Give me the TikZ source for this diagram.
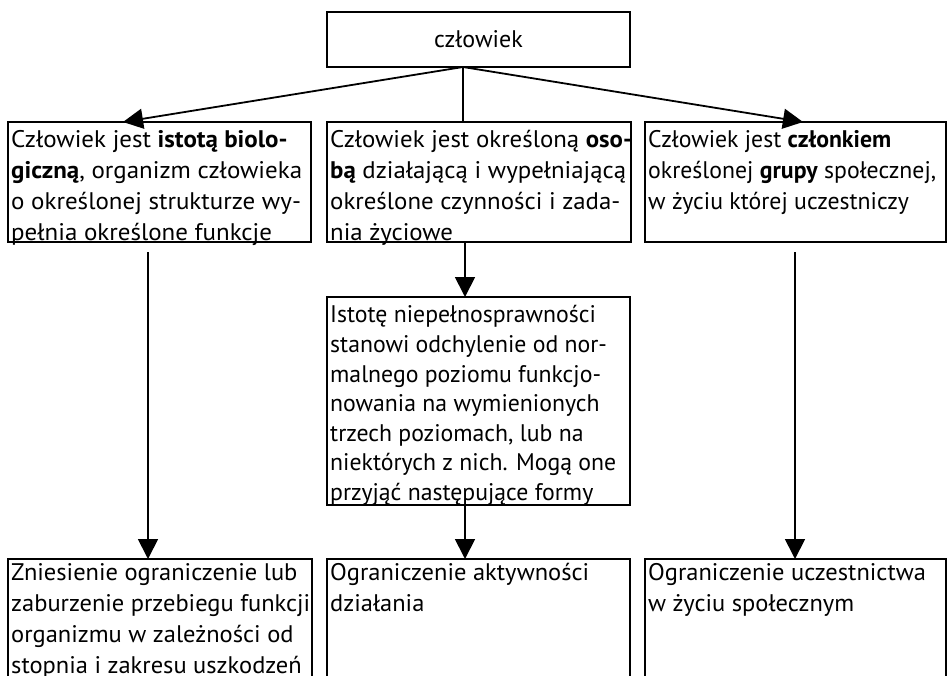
\documentclass[tikz,border=0pt]{standalone}
\usepackage{fontspec}
\usepackage{graphicx}
\setmainfont{PT Sans}
\newcommand\mytxt[2]{\scalebox{#1}[1]{\begin{tabular}[t]{@{}l@{}}#2\end{tabular}}}
\usetikzlibrary{arrows.meta}
\begin{document}
\begin{tikzpicture}[x=1pt,y=-1pt,
  box/.style={draw, line width=1.5pt, inner sep=0pt, outer sep=0pt, anchor=north west},
  txt/.style={anchor=north west, inner sep=0pt, font=\fontsize{24}{31}\selectfont},
  midtxt/.style={txt, font=\fontsize{24}{29.6}\selectfont},
  arr/.style={line width=1.8pt, -{Triangle[length=20pt,width=20pt]}},
  plain/.style={line width=1.8pt}]
\useasboundingbox (0,0) rectangle (949,676);
\clip (0,0) rectangle (949,676);
% top
\node[box, minimum width=303pt, minimum height=55pt] (top) at (327,12) {};
\node[anchor=base, inner sep=0pt, font=\fontsize{24}{31}\selectfont] (toptxt) at (478.5,48) {człowiek};
% row 1
\node[box, minimum width=303pt, minimum height=120pt] (b1) at (8,122) {};
\node[box, minimum width=304pt, minimum height=120pt] (b2) at (327,122) {};
\node[box, minimum width=301pt, minimum height=120pt] (b3) at (645,122) {};
\node[txt] (t1) at (11,125.3) {\mytxt{1.04}{Człowiek jest \textbf{istotą biolo-}\\\textbf{giczną}, organizm człowieka\\o określonej strukturze wy-\\pełnia określone funkcje}};
\node[txt] (t2) at (330,125.3) {\mytxt{1.035}{Człowiek jest określoną \textbf{oso-}\\\textbf{bą} działającą i wypełniającą\\określone czynności i zada-\\nia życiowe}};
\node[txt] (t3) at (648,125.3) {\mytxt{0.99}{Człowiek jest \textbf{członkiem}\\określonej \textbf{grupy} społecznej,\\w życiu której uczestniczy}};
% middle
\node[box, minimum width=303pt, minimum height=208pt] (mid) at (327,297) {};
\node[midtxt] (tm) at (330,302) {\mytxt{0.99}{Istotę niepełnosprawności\\stanowi odchylenie od nor-\\malnego poziomu funkcjo-\\nowania na wymienionych\\trzech poziomach, lub na\\niektórych z nich. Mogą one\\przyjąć następujące formy}};
% bottom row
\node[box, minimum width=304pt, minimum height=140pt] (c1) at (8,559) {};
\node[box, minimum width=303pt, minimum height=140pt] (c2) at (327,559) {};
\node[box, minimum width=301pt, minimum height=140pt] (c3) at (645,559) {};
\node[txt] (u1) at (11,559) {\mytxt{1.02}{Zniesienie ograniczenie lub\\zaburzenie przebiegu funkcji\\organizmu w zależności od\\stopnia i zakresu uszkodzeń}};
\node[txt] (u2) at (330,559) {\mytxt{1.02}{Ograniczenie aktywności\\działania}};
\node[txt] (u3) at (648,559) {\mytxt{1.02}{Ograniczenie uczestnictwa\\w życiu społecznym}};
% connectors
\coordinate (o) at (463,67);
\draw[arr] (o) -- (123,122);
\draw[plain] (o) -- (463,122);
\draw[arr] (o) -- (803,122);
\draw[arr] (465,242) -- (465,297);
\draw[arr] (465,505) -- (465,559);
\draw[arr] (148,252) -- (148,559);
\draw[arr] (795,252) -- (795,559);
\end{tikzpicture}
\end{document}
